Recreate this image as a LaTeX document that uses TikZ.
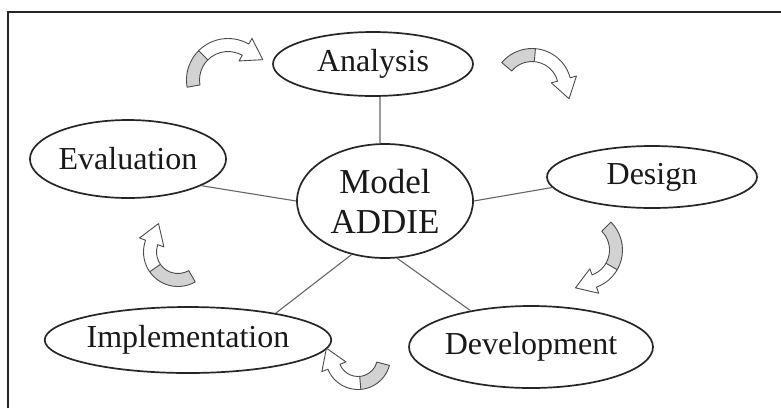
\documentclass[tikz,border=0pt]{standalone}
\usepackage{fontspec}
\setmainfont{Liberation Serif}
\usetikzlibrary{shapes.geometric,calc}
\tikzset{
  oval/.style={ellipse, draw=black!85, line width=1.7pt, inner sep=0pt, text=black!90,
    font=\fontsize{32}{32}\selectfont},
  link/.style={draw=black!60, line width=1.1pt},
  arrowline/.style={draw=black!70, line width=0.9pt, line join=round},
  frameline/.style={draw=black!85, line width=2pt}
}
% #1,#2 centre, #3 radius, #4 tail angle, #5 end of grey part, #6 head angle
\newcommand\ribbonarrow[6]{%
  \fill[gray!35] ($(#1,#2)+(#4:#3+6.5)$) arc[start angle=#4,end angle=#5,radius=#3+6.5]
     -- ($(#1,#2)+(#5:#3-6.5)$) arc[start angle=#5,end angle=#4,radius=#3-6.5] -- cycle;
  \draw[arrowline] ($(#1,#2)+(#4:#3+6.5)$) arc[start angle=#4,end angle=#6,radius=#3+6.5]
     -- ($(#1,#2)+(#6:#3+13)$) -- ($(#1,#2)+(#6:#3)+(#6-90:20)$) -- ($(#1,#2)+(#6:#3-13)$)
     -- ($(#1,#2)+(#6:#3-6.5)$) arc[start angle=#6,end angle=#4,radius=#3-6.5] -- cycle;
  \draw[arrowline] ($(#1,#2)+(#5:#3-6.5)$) -- ($(#1,#2)+(#5:#3+6.5)$);
}
\begin{document}
\begin{tikzpicture}[x=1pt,y=1pt]
\useasboundingbox (0,0) rectangle (781,-408);
\fill[white] (0,0) rectangle (781,-408);
\draw[frameline] (8,-408) -- (8,-12) -- (781,-12);

\node[oval, minimum width=200pt, minimum height=64pt] (A) at (373,-64) {Analysis};
\node[oval, minimum width=176pt, minimum height=114pt, align=center,
      font=\fontsize{35}{40}\selectfont] (M) at (385,-201) {Model\\ADDIE};
\node[oval, minimum width=210pt, minimum height=62pt] (D) at (652,-177) {Design};
\node[oval, minimum width=244pt, minimum height=82pt] (V) at (531,-347) {Development};
\node[oval, minimum width=220pt, minimum height=66pt] (I) at (188,-340) {Implementation};
\node[oval, minimum width=158pt, minimum height=78pt] (E) at (128,-159) {Evaluation};

\draw[link] (A.-78) -- (M.95);
\draw[link] (M.180) -- (E.-20);
\draw[link] (M.0) -- (D.-174);
\draw[link] (M.-78) -- (V.149);
\draw[link] (M.-122) -- (I.17);

\ribbonarrow{228}{-80}{35}{190}{135}{60}
\ribbonarrow{532}{-88}{33}{140}{85}{15}
\ribbonarrow{583}{-250}{33}{45}{-30}{-70}
\ribbonarrow{358}{-357}{26}{-15}{-85}{-158}
\ribbonarrow{178}{-252}{28}{-60}{-145}{-200}
\end{tikzpicture}
\end{document}
